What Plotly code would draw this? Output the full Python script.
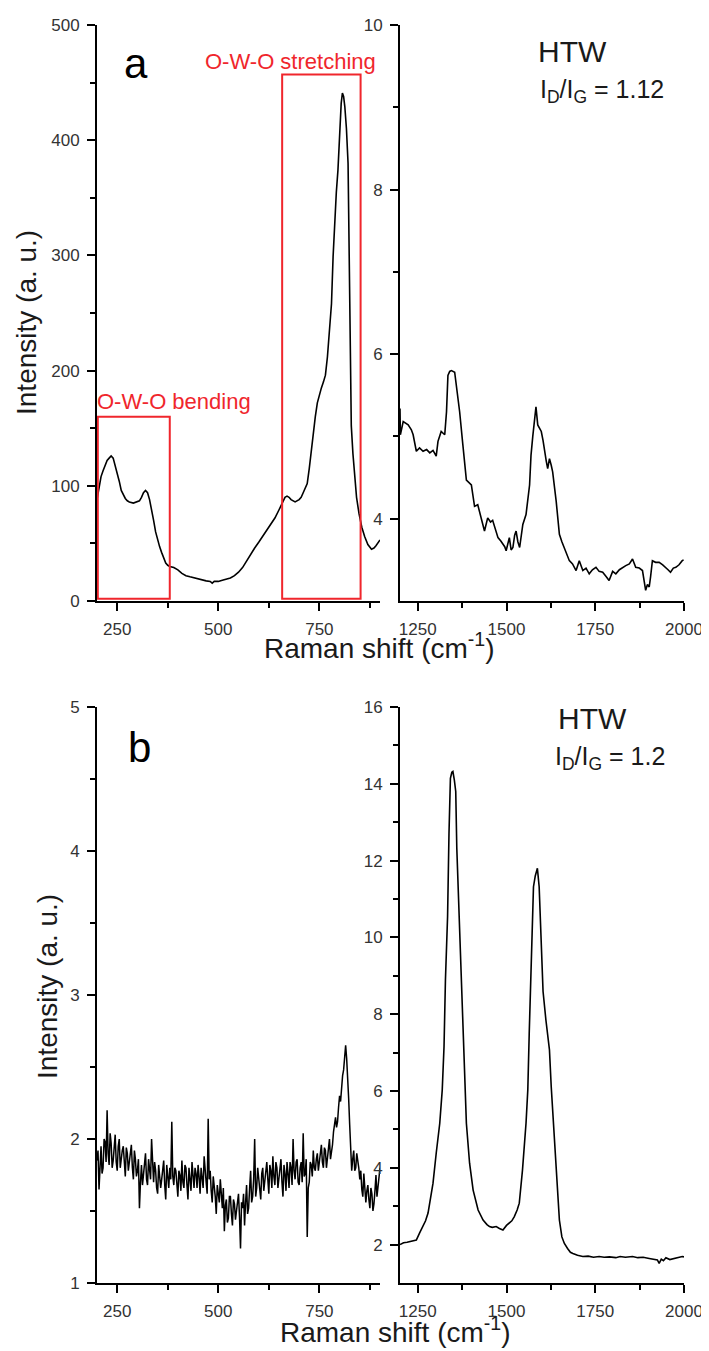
import plotly.graph_objects as go

# page body has an 8 px margin, so the figure is sized/offset to compensate
OFF = 8
W, H = 709 - OFF, 1351 - OFF

# ---------------- data ----------------
# (a) low-wavenumber region
shift_a_low = [200, 205, 210, 215, 220, 225, 230, 235, 240, 245, 250, 255, 260, 265, 270, 275, 280, 290,
               300, 305, 310, 315, 320, 325, 330, 335, 340, 345, 350, 355, 360, 365, 370, 375, 380, 390,
               400, 410, 420, 430, 440, 450, 460, 470, 480, 485, 490, 500, 510, 520, 530, 540, 550, 560,
               570, 580, 590, 600, 610, 620, 630, 640, 650, 660, 665, 670, 675, 680, 690, 700, 705, 710,
               715, 720, 725, 730, 735, 740, 745, 750, 755, 760, 765, 770, 775, 780, 784, 788, 792, 796,
               800, 804, 807, 810, 813, 817, 821, 823, 825, 827, 829, 833, 837, 842, 848, 855, 862, 870,
               879, 885, 890, 895, 900]
int_a_low = [88, 100, 108, 113, 118, 122, 124, 126, 124, 118, 111, 104, 96, 92, 89, 87, 86, 85,
             86, 87, 90, 94, 96, 94, 88, 80, 70, 60, 53, 47, 42, 37, 33, 31, 30, 29,
             27, 24, 22, 21, 20, 19, 18.5, 17.5, 17, 15.5, 17, 17, 18, 19, 20, 22, 25, 29,
             35, 41, 46, 51, 56, 61, 66, 72, 79, 87, 90, 91, 90, 88, 86, 88, 90, 94,
             98, 102, 115, 130, 148, 160, 172, 180, 185, 190, 196, 212, 232, 258, 299, 334, 355, 374,
             410, 432, 441, 438, 429, 410, 380, 320, 250, 190, 152, 128, 110, 90, 76, 64, 56, 49,
             45, 46, 48, 51, 53]

# (a) D/G region
shift_a_high = [1200, 1201, 1209, 1223, 1232, 1237, 1246, 1255, 1265, 1275, 1284, 1293, 1302, 1307, 1316,
                1326, 1331, 1335, 1340, 1345, 1354, 1359, 1368, 1377, 1387, 1401, 1410, 1419, 1429, 1438,
                1447, 1455, 1461, 1468, 1476, 1484, 1490, 1495, 1499, 1504, 1508, 1513, 1518, 1523, 1527,
                1532, 1537, 1546, 1555, 1565, 1569, 1574, 1579, 1583, 1588, 1593, 1598, 1603, 1607, 1612,
                1616, 1621, 1626, 1630, 1640, 1649, 1656, 1663, 1670, 1677, 1686, 1696, 1705, 1715, 1724,
                1733, 1742, 1752, 1761, 1771, 1780, 1789, 1799, 1808, 1818, 1827, 1836, 1846, 1855, 1864,
                1874, 1883, 1888, 1892, 1897, 1902, 1906, 1911, 1920, 1930, 1940, 1949, 1955, 1962, 1970,
                1977, 1986, 1995, 1999]
int_a_high = [5.34, 5.02, 5.18, 5.14, 5.08, 5.02, 4.82, 4.86, 4.82, 4.84, 4.80, 4.83, 4.76, 4.94, 5.06,
              5.02, 5.30, 5.74, 5.79, 5.80, 5.78, 5.62, 5.30, 4.90, 4.47, 4.41, 4.15, 4.17, 3.99, 3.85,
              4.01, 3.96, 3.98, 3.88, 3.77, 3.73, 3.69, 3.66, 3.61, 3.72, 3.77, 3.62, 3.65, 3.80, 3.85,
              3.72, 3.65, 3.93, 4.05, 4.41, 4.77, 5.00, 5.18, 5.36, 5.14, 5.10, 5.06, 4.95, 4.82, 4.70,
              4.61, 4.73, 4.65, 4.57, 4.21, 3.81, 3.72, 3.65, 3.58, 3.49, 3.45, 3.37, 3.49, 3.37, 3.40,
              3.33, 3.38, 3.41, 3.36, 3.35, 3.30, 3.25, 3.36, 3.33, 3.38, 3.41, 3.43, 3.45, 3.51, 3.41,
              3.40, 3.37, 3.22, 3.13, 3.20, 3.17, 3.30, 3.49, 3.47, 3.47, 3.44, 3.41, 3.38, 3.35, 3.40,
              3.41, 3.44, 3.49, 3.50]

# (b) low-wavenumber region (noisy): readings on the whole-5 grid ...
shift_b_low_a = [200, 205, 210, 215, 220, 225, 230, 235, 240, 245, 250, 255, 260, 265, 270, 275, 280, 285,
                 290, 295, 300, 305, 310, 315, 320, 325, 330, 335, 340, 345, 350, 355, 360, 365, 370, 375,
                 380, 385, 390, 395, 400, 405, 410, 415, 420, 425, 430, 435, 440, 445, 450, 455, 460, 465,
                 470, 475, 480, 485, 490, 495, 500, 505, 510, 515, 520, 525, 530, 535, 540, 545, 550, 555,
                 560, 565, 570, 575, 580, 585, 590, 595, 600, 605, 610, 615, 620, 625, 630, 635, 640, 645,
                 650, 655, 660, 665, 670, 675, 680, 685, 690, 695, 700, 705, 710, 715, 720, 725, 730, 735,
                 740, 745, 750, 755, 760, 765, 770, 775, 780, 785, 790, 795, 800, 805, 810, 815, 820, 825,
                 830, 835, 840, 845, 850, 855, 860, 865, 870, 875, 880, 885, 890, 895, 900]
int_b_low_a = [1.85, 1.65, 1.95, 1.80, 1.98, 2.20, 1.82, 1.97, 1.85, 2.03, 1.78, 2.00, 1.88, 1.95, 1.74, 1.90, 1.85, 1.96,
               1.72, 1.86, 1.78, 1.52, 1.82, 1.74, 1.90, 1.68, 1.80, 2.00, 1.70, 1.78, 1.62, 1.76, 1.72, 1.85, 1.58, 1.74,
               1.80, 2.12, 1.68, 1.78, 1.60, 1.75, 1.85, 1.66, 1.80, 1.58, 1.72, 1.84, 1.66, 1.76, 1.82, 1.62, 1.74, 1.88,
               1.70, 2.14, 1.78, 1.56, 1.68, 1.48, 1.62, 1.72, 1.52, 1.36, 1.58, 1.45, 1.60, 1.40, 1.55, 1.50, 1.62, 1.24,
               1.52, 1.40, 1.68, 1.52, 1.78, 1.60, 2.00, 1.66, 1.74, 1.58, 1.80, 1.70, 1.84, 1.62, 1.78, 1.88, 1.68, 1.80,
               1.74, 1.86, 1.60, 1.76, 1.84, 1.66, 1.80, 2.00, 1.72, 1.86, 1.68, 1.84, 2.04, 1.76, 1.32, 1.70, 1.82, 1.92,
               1.78, 1.90, 1.84, 1.96, 1.80, 1.92, 1.86, 2.00, 1.90, 2.05, 2.15, 2.12, 2.30, 2.38, 2.48, 2.65, 2.45, 2.10,
               1.78, 1.92, 1.80, 1.86, 1.72, 1.65, 1.76, 1.56, 1.68, 1.52, 1.62, 1.55, 1.75, 1.66, 1.80]
# ... and readings in between them
shift_b_low_b = [202.5, 207.5, 212.5, 217.5, 222.5, 227.5, 232.5, 237.5, 242.5, 247.5, 252.5, 257.5, 262.5, 267.5,
                 272.5, 277.5, 282.5, 287.5, 292.5, 297.5, 302.5, 307.5, 312.5, 317.5, 322.5, 327.5, 332.5, 337.5,
                 342.5, 347.5, 352.5, 357.5, 362.5, 367.5, 372.5, 377.5, 382.5, 387.5, 392.5, 397.5, 402.5, 407.5,
                 412.5, 417.5, 422.5, 427.5, 432.5, 437.5, 442.5, 447.5, 452.5, 457.5, 462.5, 467.5, 472.5, 477.5,
                 482.5, 487.5, 492.5, 497.5, 502.5, 507.5, 512.5, 517.5, 522.5, 527.5, 532.5, 537.5, 542.5, 547.5,
                 552.5, 557.5, 562.5, 567.5, 572.5, 577.5, 582.5, 587.5, 592.5, 597.5, 602.5, 607.5, 612.5, 617.5,
                 622.5, 627.5, 632.5, 637.5, 642.5, 647.5, 652.5, 657.5, 662.5, 667.5, 672.5, 677.5, 682.5, 687.5,
                 692.5, 697.5, 702.5, 707.5, 712.5, 717.5, 722.5, 727.5, 732.5, 737.5, 742.5, 747.5, 752.5, 757.5,
                 762.5, 767.5, 772.5, 777.5, 782.5, 787.5, 792.5, 797.5, 802.5, 807.5, 812.5, 817.5, 822.5, 827.5,
                 832.5, 837.5, 842.5, 847.5, 852.5, 857.5, 862.5, 867.5, 872.5, 877.5, 882.5, 887.5, 892.5, 897.5]
int_b_low_b = [1.92, 1.88, 1.76, 2.00, 1.84, 1.90, 2.04, 1.80, 1.94, 1.84, 1.95, 1.80, 1.92, 1.80,
               1.94, 1.78, 1.90, 1.80, 1.92, 1.74, 1.86, 1.70, 1.68, 1.84, 1.72, 1.86, 1.72, 1.82,
               1.84, 1.66, 1.82, 1.66, 1.80, 1.68, 1.82, 1.66, 1.72, 1.74, 1.80, 1.66, 1.78, 1.64,
               1.70, 1.82, 1.68, 1.80, 1.64, 1.72, 1.80, 1.66, 1.74, 1.80, 1.66, 1.76, 1.62, 1.72,
               1.64, 1.74, 1.60, 1.68, 1.56, 1.60, 1.66, 1.54, 1.42, 1.60, 1.48, 1.58, 1.44, 1.60,
               1.46, 1.56, 1.62, 1.56, 1.48, 1.66, 1.56, 1.72, 1.60, 1.80, 1.66, 1.76, 1.64, 1.78,
               1.72, 1.82, 1.66, 1.74, 1.84, 1.66, 1.80, 1.70, 1.82, 1.64, 1.76, 1.84, 1.68, 1.78,
               1.84, 1.70, 1.80, 1.70, 1.74, 1.86, 1.66, 1.84, 1.74, 1.80, 1.86, 1.78, 1.92, 1.84,
               1.94, 1.80, 1.90, 1.86, 1.96, 2.12, 2.08, 2.22, 2.26, 2.44, 2.55, 2.56, 2.28, 1.90,
               1.86, 1.78, 1.90, 1.80, 1.78, 1.60, 1.66, 1.64, 1.58, 1.66, 1.50, 1.64, 1.60, 1.72]

# (b) D/G region
shift_b_high = [1200, 1210, 1220, 1230, 1240, 1246, 1255, 1265, 1272, 1279, 1284, 1293, 1302, 1312, 1319,
                1324, 1328, 1331, 1334, 1338, 1342, 1346, 1349, 1353, 1357, 1360, 1364, 1368, 1373, 1377,
                1382, 1387, 1396, 1406, 1420, 1434, 1445, 1452, 1460, 1471, 1480, 1490, 1500, 1508, 1515,
                1522, 1530, 1536, 1545, 1555, 1560, 1564, 1568, 1572, 1576, 1581, 1587, 1592, 1597, 1603,
                1611, 1621, 1626, 1632, 1640, 1649, 1656, 1663, 1672, 1680, 1687, 1700, 1715, 1730, 1745,
                1761, 1775, 1790, 1808, 1820, 1835, 1855, 1870, 1885, 1902, 1915, 1925, 1930, 1936, 1942,
                1949, 1960, 1971, 1985, 1995, 2000]
int_b_high = [2.00, 2.05, 2.06, 2.08, 2.10, 2.12, 2.30, 2.47, 2.62, 2.82, 3.08, 3.60, 4.38, 5.16, 6.03,
              7.15, 8.89, 9.80, 10.54, 12.71, 14.14, 14.30, 14.32, 14.10, 13.80, 12.32, 11.20, 10.24, 8.55, 7.50,
              6.03, 5.16, 4.12, 3.42, 2.90, 2.64, 2.52, 2.47, 2.45, 2.47, 2.42, 2.38, 2.50, 2.56, 2.62,
              2.73, 2.90, 3.08, 3.94, 5.16, 6.03, 7.50, 8.72, 10.28, 11.32, 11.60, 11.80, 11.32, 9.89, 8.59,
              7.85, 7.07, 6.11, 5.16, 4.12, 2.64, 2.20, 2.03, 1.90, 1.80, 1.77, 1.72, 1.69, 1.70, 1.67,
              1.69, 1.67, 1.68, 1.66, 1.69, 1.67, 1.69, 1.66, 1.67, 1.64, 1.62, 1.60, 1.51, 1.62, 1.58,
              1.66, 1.61, 1.64, 1.67, 1.69, 1.68]

# tick labels
x_low_ticks = [250, 500, 750]
x_low_minor = [375, 625, 875]
x_high_ticks = [1250, 1500, 1750, 2000]
x_high_minor = [1375, 1625, 1875]
y_a_low_ticks = [0, 100, 200, 300, 400, 500]
y_a_low_minor = [50, 150, 250, 350, 450]
y_a_high_ticks = [4, 6, 8, 10]
y_a_high_minor = [5, 7, 9]
y_b_low_ticks = [1, 2, 3, 4, 5]
y_b_low_minor = [1.5, 2.5, 3.5, 4.5]
y_b_high_ticks = [2, 4, 6, 8, 10, 12, 14, 16]
y_b_high_minor = [3, 5, 7, 9, 11, 13, 15]

# merge the two sets of noisy readings in order of Raman shift
pairs_b_low = sorted(zip(shift_b_low_a + shift_b_low_b, int_b_low_a + int_b_low_b))
shift_b_low = [p[0] for p in pairs_b_low]
int_b_low = [p[1] for p in pairs_b_low]

# ---------------- layout helpers (positions given in page pixels) ----------------
def fx(p):
    return (p - OFF) / W

def fy(p):
    return 1 - (p - OFF) / H

FONT = "Liberation Sans, Arial, sans-serif"
RED = "#f0262c"
TICKFONT = dict(family=FONT, size=17, color="#333333")

XL = [fx(97), fx(380)]
XR = [fx(400), fx(684)]
YT = [fy(601), fy(25)]
YB = [fy(1283), fy(707)]


def axis(domain, anchor, rng, ticks, minor):
    return dict(domain=domain, anchor=anchor, range=rng, tickmode="array", tickvals=ticks,
                showline=True, linecolor="black", linewidth=2, mirror=False,
                ticks="outside", ticklen=8, tickwidth=1.5, tickcolor="black",
                minor=dict(tickmode="array", tickvals=minor, ticks="outside", ticklen=5,
                           tickwidth=1.5, tickcolor="black", showgrid=False),
                showgrid=False, zeroline=False, tickfont=TICKFONT, fixedrange=True,
                automargin=False, ticklabelstandoff=4)


fig = go.Figure()
line = dict(color="black", width=1.6)
fig.add_trace(go.Scatter(x=shift_a_low, y=int_a_low, mode="lines", line=line, xaxis="x", yaxis="y"))
fig.add_trace(go.Scatter(x=shift_a_high, y=int_a_high, mode="lines", line=line, xaxis="x2", yaxis="y2"))
fig.add_trace(go.Scatter(x=shift_b_low, y=int_b_low, mode="lines", line=dict(color="black", width=1.5),
                         xaxis="x3", yaxis="y3"))
fig.add_trace(go.Scatter(x=shift_b_high, y=int_b_high, mode="lines", line=line, xaxis="x4", yaxis="y4"))

fig.update_layout(
    template="none",
    width=W, height=H, autosize=False, showlegend=False,
    margin=dict(l=0, r=0, t=0, b=0, pad=0),
    paper_bgcolor="white", plot_bgcolor="white",
    xaxis=axis(XL, "y", [200, 900], x_low_ticks, x_low_minor),
    yaxis=axis(YT, "x", [0, 500], y_a_low_ticks, y_a_low_minor),
    xaxis2=axis(XR, "y2", [1200, 2000], x_high_ticks, x_high_minor),
    yaxis2=axis(YT, "x2", [3, 10], y_a_high_ticks, y_a_high_minor),
    xaxis3=axis(XL, "y3", [200, 900], x_low_ticks, x_low_minor),
    yaxis3=axis(YB, "x3", [1, 5], y_b_low_ticks, y_b_low_minor),
    xaxis4=axis(XR, "y4", [1200, 2000], x_high_ticks, x_high_minor),
    yaxis4=axis(YB, "x4", [1, 16], y_b_high_ticks, y_b_high_minor),
)

# red boxes in panel a
fig.add_shape(type="rect", xref="x", yref="y", x0=202, x1=380, y0=2, y1=160,
              line=dict(color=RED, width=2), fillcolor="rgba(0,0,0,0)")
fig.add_shape(type="rect", xref="x", yref="y", x0=658, x1=852, y0=2, y1=457,
              line=dict(color=RED, width=2), fillcolor="rgba(0,0,0,0)")


def ann(text, x, y, size, color="#1a1a1a", xanchor="left", yanchor="middle", angle=0):
    fig.add_annotation(text=text, x=fx(x), y=fy(y), xref="paper", yref="paper",
                       xanchor=xanchor, yanchor=yanchor, showarrow=False, textangle=angle,
                       font=dict(family=FONT, size=size, color=color))


ann("O-W-O stretching", 203, 61, 22, RED)
ann("O-W-O bending", 95, 401, 22, RED)
ann("a", 136, 63, 42, "black", xanchor="center")
ann("b", 139, 748, 42, "black", xanchor="center")
ann("HTW", 536, 52, 30)
ann("I<sub>D</sub>/I<sub>G</sub> = 1.12", 538, 73, 25, yanchor="top")
ann("HTW", 556, 718, 30)
ann("I<sub>D</sub>/I<sub>G</sub> = 1.2", 553, 740, 25, yanchor="top")

# axis titles
ann("Raman shift (cm<sup>-1</sup>)", 379, 646, 28, xanchor="center")
ann("Raman shift (cm<sup>-1</sup>)", 395, 1330, 28, xanchor="center")
ann("Intensity (a. u.)", 26, 323, 28, xanchor="center", angle=-90)
ann("Intensity (a. u.)", 47, 987, 28, xanchor="center", angle=-90)

fig.write_html("out.html")
